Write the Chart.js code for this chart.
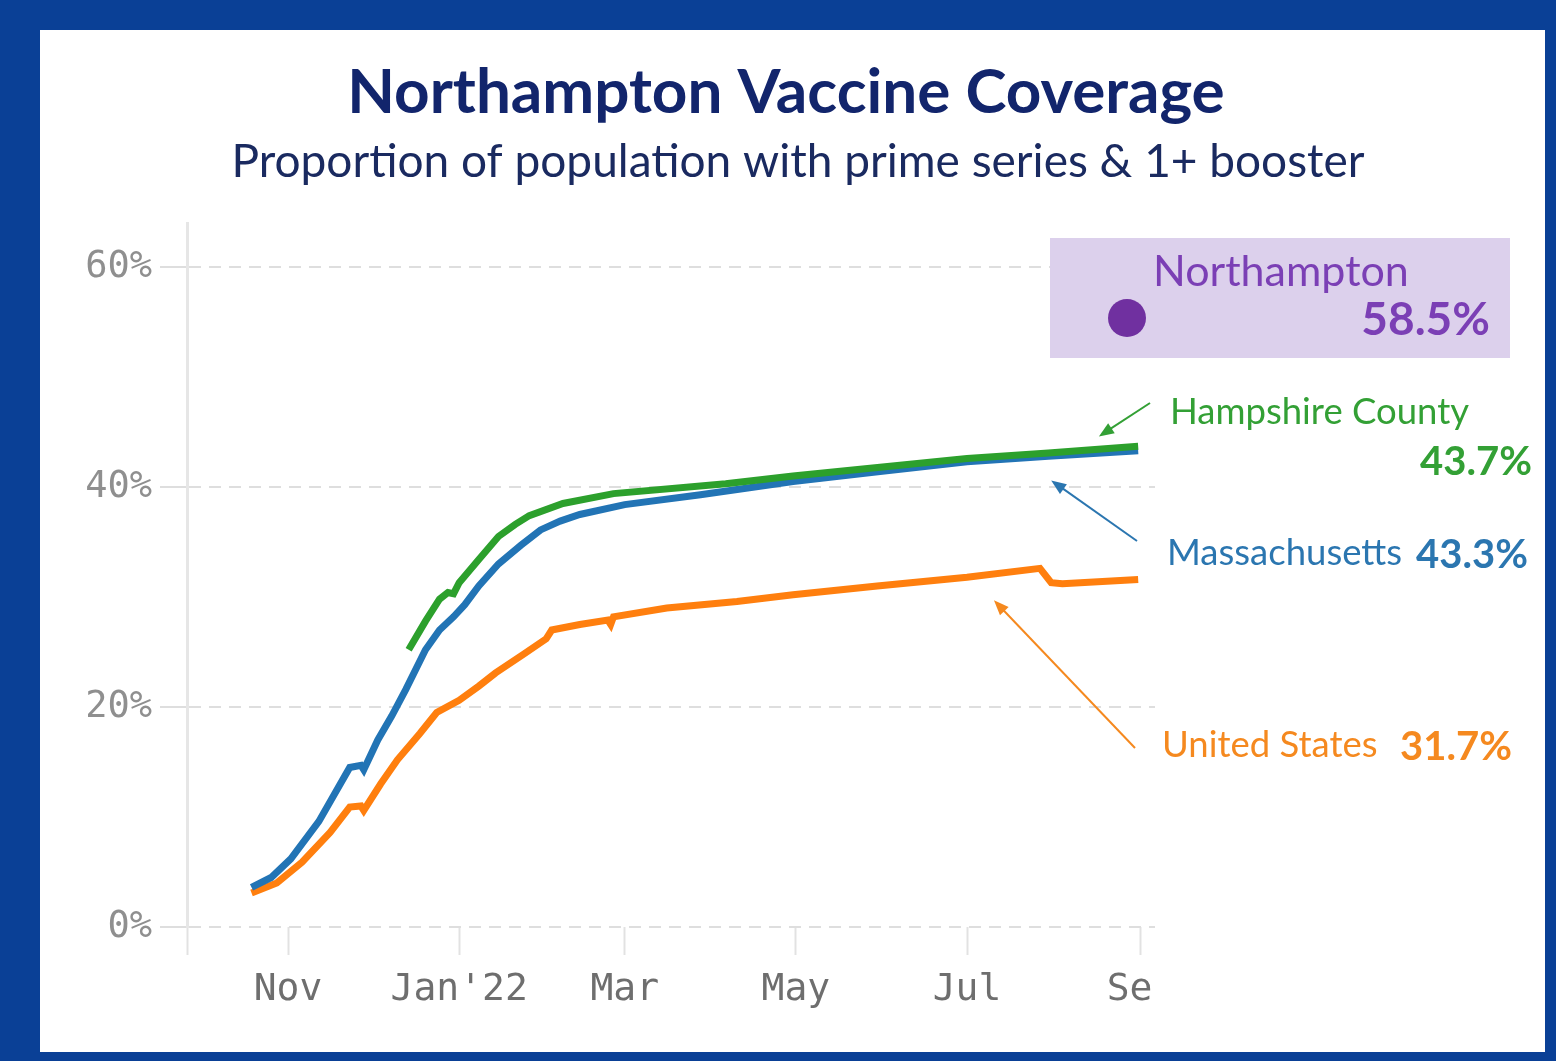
<!DOCTYPE html>
<html lang="en">
<head>
<meta charset="UTF-8" />
<title>Northampton Vaccine Coverage</title>
<style>
  body {
    margin: 0;
    background-color: #0a4096;
    width: 1556px;
    height: 1061px;
    overflow: hidden;
  }
  #panel {
    position: absolute;
    left: 40px;
    top: 30px;
    width: 1505px;
    height: 1022px;
    background-color: #ffffff;
  }
</style>
</head>
<body>
  <div id="panel">
    <canvas id="coverageChart" width="1505" height="1022"></canvas>
  </div>

  <script src="https://cdn.jsdelivr.net/npm/chart.js"></script>
  <script>
    // days counted from Nov 1 2021
    const xTickDays = [-36, 0, 61, 120, 181, 242, 304];
    const xTickLabels = ['', 'Nov', "Jan'22", 'Mar', 'May', 'Jul', 'Sep'];
    const yTickValues = [0, 20, 40, 60];

    // United States
    const usDays = [-13, -4, 5, 15, 22, 26, 27, 33, 39, 47, 53, 61, 68, 74, 84, 92, 94, 104, 114, 115, 116, 135, 160, 180, 210, 242, 268, 272, 276, 303];
    const usValues = [3.1, 4.0, 5.9, 8.6, 10.9, 11.0, 10.6, 13.0, 15.2, 17.6, 19.5, 20.6, 21.9, 23.1, 24.8, 26.2, 27.0, 27.5, 27.9, 27.5, 28.2, 29.0, 29.6, 30.2, 31.0, 31.8, 32.6, 31.3, 31.2, 31.6];

    // Massachusetts
    const maDays = [-13, -6, 1, 11, 22, 26, 27, 32, 37, 42, 49, 54, 59, 63, 68, 75, 83, 90, 97, 104, 120, 147, 180, 211, 242, 271, 303];
    const maValues = [3.6, 4.5, 6.2, 9.6, 14.5, 14.7, 14.3, 17.0, 19.2, 21.6, 25.2, 27.0, 28.2, 29.3, 31.0, 33.0, 34.7, 36.1, 36.9, 37.5, 38.4, 39.3, 40.5, 41.4, 42.3, 42.8, 43.3];

    // Hampshire County
    const hcDays = [43, 49, 54, 57, 59, 61, 68, 75, 81, 86, 98, 116, 156, 180, 211, 242, 271, 303];
    const hcValues = [25.2, 27.8, 29.8, 30.4, 30.3, 31.3, 33.4, 35.5, 36.6, 37.4, 38.5, 39.4, 40.3, 41.0, 41.8, 42.6, 43.1, 43.7];

    const toPoints = (days, values) => days.map((d, i) => ({ x: d, y: values[i] }));

    // titles, annotation box, labels and arrows
    const labelPlugin = {
      id: 'labels',
      afterDraw(chart) {
        const ctx = chart.ctx;
        const xs = chart.scales.x;
        const ys = chart.scales.y;
        ctx.save();

        // the last month label is cut at the right end of the axis
        ctx.fillStyle = '#ffffff';
        ctx.fillRect(xs.right - 3, xs.top + 30, 60, 80);

        ctx.textBaseline = 'middle';
        ctx.textAlign = 'center';
        ctx.fillStyle = '#12256c';
        ctx.font = 'bold 62px Lato';
        ctx.fillText('Northampton Vaccine Coverage', 746, 63);
        ctx.fillStyle = '#1a2a60';
        ctx.font = '46px Lato';
        ctx.fillText('Proportion of population with prime series & 1+ booster', 758, 132);

        ctx.fillStyle = '#dcd0ec';
        ctx.fillRect(1010, 208, 460, 120);
        ctx.fillStyle = '#7030a0';
        ctx.beginPath();
        ctx.arc(1087, 288, 19, 0, Math.PI * 2);
        ctx.fill();

        ctx.textAlign = 'left';
        ctx.fillStyle = '#7b3fb5';
        ctx.font = '43px Lato';
        ctx.fillText('Northampton', 1113, 242);
        ctx.textAlign = 'right';
        ctx.font = 'bold 46px Lato';
        ctx.fillText('58.5%', 1450, 290);

        const arrow = (x1, y1, day, val, color) => {
          const x2 = xs.getPixelForValue(day);
          const y2 = ys.getPixelForValue(val);
          const a = Math.atan2(y2 - y1, x2 - x1);
          ctx.strokeStyle = color;
          ctx.fillStyle = color;
          ctx.lineWidth = 2;
          ctx.beginPath();
          ctx.moveTo(x1, y1);
          ctx.lineTo(x2 - 10 * Math.cos(a), y2 - 10 * Math.sin(a));
          ctx.stroke();
          ctx.beginPath();
          ctx.moveTo(x2, y2);
          ctx.lineTo(x2 - 15 * Math.cos(a) + 6 * Math.sin(a), y2 - 15 * Math.sin(a) - 6 * Math.cos(a));
          ctx.lineTo(x2 - 15 * Math.cos(a) - 6 * Math.sin(a), y2 - 15 * Math.sin(a) + 6 * Math.cos(a));
          ctx.closePath();
          ctx.fill();
        };

        const label = (name, nx, ny, pct, px, py, color) => {
          ctx.fillStyle = color;
          ctx.textAlign = 'left';
          ctx.font = '36.5px Lato';
          ctx.fillText(name, nx, ny);
          ctx.textAlign = 'right';
          ctx.font = 'bold 40px Lato';
          ctx.fillText(pct, px, py);
        };

        label('Hampshire County', 1130, 382, '43.7%', 1492, 432, '#33a035');
        arrow(1110, 373, 289, 44.6, '#33a035');
        label('Massachusetts', 1127, 523, '43.3%', 1488, 525, '#2b76b0');
        arrow(1097, 511, 272, 40.6, '#2b76b0');
        label('United States', 1122, 715, '31.7%', 1472, 717, '#f5891f');
        arrow(1095, 718, 251.6, 29.7, '#f5891f');

        ctx.restore();
      }
    };

    const ctx = document.getElementById('coverageChart').getContext('2d');
    new Chart(ctx, {
      type: 'line',
      data: {
        datasets: [
          {
            label: 'Hampshire County',
            data: toPoints(hcDays, hcValues),
            borderColor: '#2ca02c',
            borderWidth: 7,
            pointRadius: 0,
            order: 0
          },
          {
            label: 'Massachusetts',
            data: toPoints(maDays, maValues),
            borderColor: '#2274b5',
            borderWidth: 7,
            pointRadius: 0,
            order: 1
          },
          {
            label: 'United States',
            data: toPoints(usDays, usValues),
            borderColor: '#ff7f0e',
            borderWidth: 7,
            pointRadius: 0,
            order: 2
          }
        ]
      },
      options: {
        responsive: false,
        animation: false,
        layout: { padding: { left: 0, top: 193, right: 390, bottom: 0 } },
        plugins: {
          legend: { display: false },
          tooltip: { enabled: false }
        },
        scales: {
          x: {
            type: 'linear',
            min: -36,
            max: 309,
            afterBuildTicks: scale => {
              scale.ticks = xTickDays.map(v => ({ value: v }));
            },
            afterFit: scale => { scale.height = 125; },
            ticks: {
              autoSkip: false,
              maxRotation: 0,
              padding: 12,
              color: '#6e6e6e',
              font: { family: 'DejaVu Sans Mono', size: 38 },
              callback: (v, i) => xTickLabels[i]
            },
            grid: {
              drawOnChartArea: false,
              tickLength: 28,
              tickColor: '#e2e2e2',
              tickWidth: 2
            },
            border: { display: false }
          },
          y: {
            min: 0,
            max: 64,
            afterBuildTicks: scale => {
              scale.ticks = yTickValues.map(v => ({ value: v }));
            },
            afterFit: scale => { scale.width = 147; },
            ticks: {
              padding: 8,
              color: '#8f8f8f',
              font: { family: 'DejaVu Sans Mono', size: 37 },
              callback: v => v + '%'
            },
            grid: {
              color: '#dedede',
              lineWidth: 2,
              tickLength: 27,
              tickColor: '#dedede',
              tickBorderDash: []
            },
            border: { display: true, color: '#e6e6e6', width: 3, dash: [12, 8] }
          }
        }
      },
      plugins: [labelPlugin]
    });
  </script>
</body>
</html>
